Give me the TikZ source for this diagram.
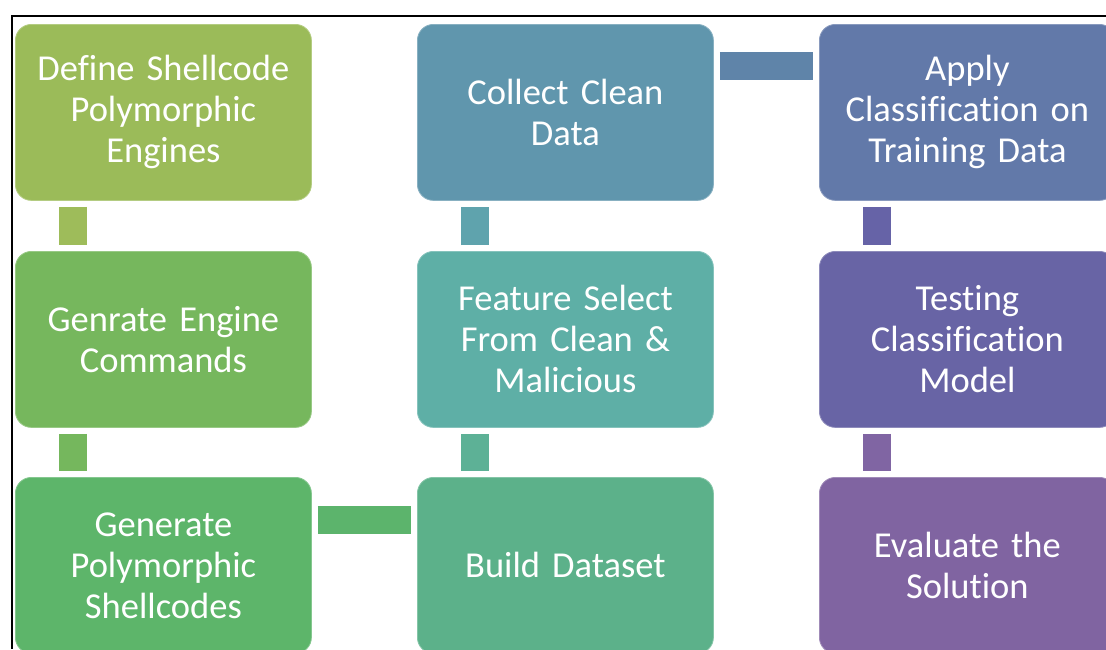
\documentclass[tikz,border=0pt]{standalone}
\usepackage{fontspec}
\setmainfont{Carlito}[Ligatures={NoCommon}]
\definecolor{cDef}{HTML}{9BBB59}
\definecolor{cGen}{HTML}{76B75D}
\definecolor{cGps}{HTML}{5DB56A}
\definecolor{cBld}{HTML}{5CB18A}
\definecolor{cFea}{HTML}{5EAFA6}
\definecolor{cCol}{HTML}{6096AD}
\definecolor{cApp}{HTML}{6279A9}
\definecolor{cTst}{HTML}{6864A5}
\definecolor{cEva}{HTML}{8064A1}
\definecolor{kA}{HTML}{9EBC5A}
\definecolor{kB}{HTML}{75B75D}
\definecolor{kC}{HTML}{5CB46C}
\definecolor{kD}{HTML}{5DB196}
\definecolor{kE}{HTML}{5FA3AD}
\definecolor{kF}{HTML}{5F84A9}
\definecolor{kG}{HTML}{6663A7}
\definecolor{kH}{HTML}{8065A3}
\tikzset{
  stepbox/.style={rectangle, rounded corners=16pt, fill=#1, draw=#1!75!white,
    line width=0.8pt, minimum width=296pt, minimum height=176pt,
    text width=290pt, align=center, inner sep=0pt, anchor=north west,
    text=white, font=\fontsize{36.5pt}{41pt}\selectfont},
  link/.style={draw=#1, line width=28pt, line cap=butt, shorten <=6pt, shorten >=6pt},
}
\begin{document}
\begin{tikzpicture}[x=1pt,y=1pt]
\useasboundingbox (0,0) rectangle (1106,-649);
\clip (0,0) rectangle (1106,-649);
\fill[white] (0,0) rectangle (1106,-649);
% frame lines
\coordinate (fr1) at (1106,-15.5);
\coordinate (fr2) at (11.5,-15.5);
\coordinate (fr3) at (11.5,-649);
\draw[black, line width=2pt] (fr1) -- (fr2) -- (fr3);
% boxes
\node[stepbox=cDef] (def) at (15,-24) {Define Shellcode\\Polymorphic\\Engines};
\node[stepbox=cGen] (gen) at (15,-251) {Genrate Engine\\Commands};
\node[stepbox=cGps] (gps) at (15,-477) {Generate\\Polymorphic\\Shellcodes};
\node[stepbox=cBld] (bld) at (417,-477) {Build Dataset};
\node[stepbox=cFea] (fea) at (417,-251) {Feature Select\\From Clean \&\\Malicious};
\node[stepbox=cCol] (col) at (417,-24) {Collect Clean\\Data};
\node[stepbox=cApp] (app) at (819,-24) {Apply\\Classification on\\Training Data};
\node[stepbox=cTst] (tst) at (819,-251) {Testing\\Classification\\Model};
\node[stepbox=cEva] (eva) at (819,-477) {Evaluate the\\Solution};
% connectors
\draw[link=kA] ([xshift=58pt]def.south west) -- ([xshift=58pt]gen.north west);
\draw[link=kB] ([xshift=58pt]gen.south west) -- ([xshift=58pt]gps.north west);
\draw[link=kC] ([yshift=-43pt]gps.north east) -- ([yshift=-43pt]bld.north west);
\draw[link=kD] ([xshift=58pt]bld.north west) -- ([xshift=58pt]fea.south west);
\draw[link=kE] ([xshift=58pt]fea.north west) -- ([xshift=58pt]col.south west);
\draw[link=kF] ([yshift=-42pt]col.north east) -- ([yshift=-42pt]app.north west);
\draw[link=kG] ([xshift=58pt]app.south west) -- ([xshift=58pt]tst.north west);
\draw[link=kH] ([xshift=58pt]tst.south west) -- ([xshift=58pt]eva.north west);
\end{tikzpicture}
\end{document}
